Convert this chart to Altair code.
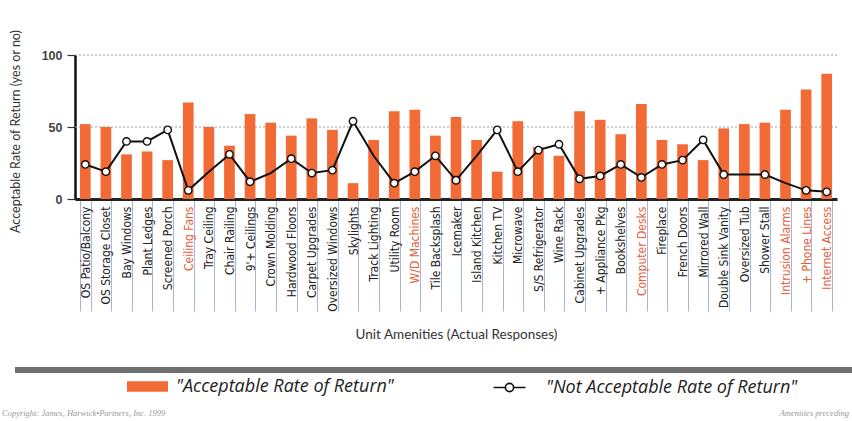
import altair as alt
import pandas as pd

# Unit amenities surveyed, in display order
amenities = [
    "OS Patio/Balcony", "OS Storage Closet", "Bay Windows", "Plant Ledges",
    "Screened Porch", "Ceiling Fans", "Tray Ceiling", "Chair Railing",
    "9'+ Ceilings", "Crown Molding", "Hardwood Floors", "Carpet Upgrades",
    "Oversized Windows", "Skylights", "Track Lighting", "Utility Room",
    "W/D Machines", "Tile Backsplash", "Icemaker", "Island Kitchen",
    "Kitchen TV", "Microwave", "S/S Refrigerator", "Wine Rack",
    "Cabinet Upgrades", "+ Appliance Pkg", "Bookshelves", "Computer Desks",
    "Fireplace", "French Doors", "Mirrored Wall", "Double Sink Vanity",
    "Oversized Tub", "Shower Stall", "Intrusion Alarms", "+ Phone Lines",
    "Internet Access",
]

# Share of respondents answering "acceptable rate of return" (bars)
acceptable = [52, 50, 31, 33, 27, 67, 50, 37, 59, 53, 44, 56, 48, 11, 41, 61,
              62, 44, 57, 41, 19, 54, 36, 30, 61, 55, 45, 66, 41, 38, 27, 49,
              52, 53, 62, 76, 87]

# Share answering "not acceptable rate of return" (line)
not_acceptable = [24, 19, 40, 40, 48, 6, 19, 31, 12, 18, 28, 18, 20, 54, 30,
                  11, 19, 30, 13, 30, 48, 19, 34, 38, 14, 16, 24, 15, 24, 27,
                  41, 17, 17, 17, 11, 6, 5]

# Line vertices drawn without a circle marker
no_marker = ["Tray Ceiling", "Crown Molding", "Track Lighting",
             "Island Kitchen", "Oversized Tub", "Intrusion Alarms"]

# Amenity names printed in red
highlighted = ["Ceiling Fans", "W/D Machines", "Computer Desks",
               "Intrusion Alarms", "+ Phone Lines", "Internet Access"]

y_ticks = [0, 25, 50, 75, 100]
grid_levels = [50, 100]

series_acc = '"Acceptable Rate of Return"'
series_not = '"Not Acceptable Rate of Return"'

ORANGE = "#f26a36"

df = pd.DataFrame({
    "amenity": amenities,
    "acceptable": acceptable,
    "not_acceptable": not_acceptable,
})
df["marked"] = ~df["amenity"].isin(no_marker)

hl_list = ",".join("'" + h.replace("'", "\\'") + "'" for h in highlighted)
label_color_expr = f"indexof([{hl_list}], datum.value) >= 0 ? '#e8603a' : '#222222'"

x_enc = alt.X(
    "amenity:N",
    sort=amenities,
    scale=alt.Scale(paddingInner=0.48, paddingOuter=0.24),
    axis=alt.Axis(
        title="Unit Amenities (Actual Responses)",
        titleFont="Lato",
        titleFontSize=13.5,
        titleFontWeight="normal",
        titleColor="#333333",
        titleY=135,
        titleBaseline="middle",
        labelAngle=270,
        labelFont="Liberation Sans Narrow, DejaVu Sans Condensed, sans-serif",
        labelFontSize=12,
        labelColor={"expr": label_color_expr},
        labelLimit=200,
        labelPadding=-105,
        tickBand="extent",
        tickSize=112,
        tickColor="#a9b5d2",
        tickWidth=1,
        domainColor="#222222",
        domainWidth=3,
        grid=False,
    ),
)

y_scale = alt.Scale(domain=[0, 100], nice=False)

bars = alt.Chart(df).mark_bar(color=ORANGE).encode(
    x=x_enc,
    y=alt.Y(
        "acceptable:Q",
        scale=y_scale,
        axis=alt.Axis(
            values=y_ticks,
            title="Acceptable Rate of Return (yes or no)",
            titleFont="Lato",
            titleFontSize=12.5,
            titleFontWeight="normal",
            titleColor="#333333",
            titleAngle=270,
            titleAlign="center",
            titleBaseline="middle",
            titleX=-60,
            titleY=76,
            labelFont="Liberation Sans",
            labelFontWeight="bold",
            labelFontSize=12.5,
            labelColor="#444444",
            labelPadding=5,
            tickSize=8,
            tickColor="#333333",
            tickWidth=1.2,
            domainColor="#111111",
            domainWidth=2.5,
            grid=False,
        ),
    ),
)

grid = alt.Chart(pd.DataFrame({"level": grid_levels})).mark_rule(
    color="#9a9a9a", strokeWidth=1, strokeDash=[2, 2]
).encode(y=alt.Y("level:Q", scale=y_scale))

line = alt.Chart(df).mark_line(color="#111111", strokeWidth=2).encode(
    x=alt.X("amenity:N", sort=amenities),
    y=alt.Y("not_acceptable:Q", scale=y_scale),
)

points = alt.Chart(df).transform_filter("datum.marked").mark_point(
    shape="circle", filled=True, fill="white", stroke="#111111",
    strokeWidth=1.4, size=55, opacity=1
).encode(
    x=alt.X("amenity:N", sort=amenities),
    y=alt.Y("not_acceptable:Q", scale=y_scale),
)

# Legend symbols: a flat orange block, and a line through an open circle
rect_path = "M-1,-0.26H1V0.26H-1Z"
line_circle_path = ("M-0.78,0H-0.2M0.2,0H0.78"
                    "M-0.2,0A0.2,0.2 0 1,1 0.2,0A0.2,0.2 0 1,1 -0.2,0Z")

legend_common = dict(
    title=None,
    orient="none",
    direction="horizontal",
    padding=0,
    symbolSize=1681,
    symbolOpacity=1,
    labelFont="Open Sans",
    labelFontStyle="italic",
    labelFontSize=18,
    labelColor="#222222",
    labelLimit=400,
    legendY=311,
)

# Legend-only layers: no rows survive the filter, the explicit domains keep the entries
legend_acc = alt.Chart(pd.DataFrame({"s1": [series_acc]})).transform_filter(
    "false"
).mark_point(filled=True, shape=rect_path, opacity=1).encode(
    fill=alt.Fill(
        "s1:N",
        scale=alt.Scale(domain=[series_acc], range=[ORANGE]),
        legend=alt.Legend(
            legendX=52, labelOffset=8, symbolType=rect_path,
            symbolStrokeWidth=0, **legend_common
        ),
    ),
)

legend_not = alt.Chart(pd.DataFrame({"s2": [series_not]})).transform_filter(
    "false"
).mark_point(filled=False, shape=line_circle_path, opacity=1).encode(
    stroke=alt.Stroke(
        "s2:N",
        scale=alt.Scale(domain=[series_not], range=["#111111"]),
        legend=alt.Legend(
            legendX=413, labelOffset=15, symbolType=line_circle_path,
            symbolFillColor="white", symbolStrokeWidth=1.6, **legend_common
        ),
    ),
)

# Heavy grey divider above the legend
divider = alt.Chart(pd.DataFrame({"k": [0]})).mark_rule(
    color="#6f6f6f", strokeWidth=6
).encode(x=alt.value(-60), x2=alt.value(780), y=alt.value(315))

footer_left = alt.Chart(
    pd.DataFrame({"t": ["Copyright: James, Harwick\u2022Partners, Inc. 1999"]})
).mark_text(
    align="left", baseline="middle", font="Liberation Serif",
    fontStyle="italic", fontSize=8.5, color="#9a9a9a"
).encode(x=alt.value(-73), y=alt.value(358), text="t:N")

footer_right = alt.Chart(
    pd.DataFrame({"t": ["Amenities preceding"]})
).mark_text(
    align="right", baseline="middle", font="Liberation Serif",
    fontStyle="italic", fontSize=8.5, color="#9a9a9a"
).encode(x=alt.value(774), y=alt.value(358), text="t:N")

chart = alt.layer(
    grid, bars, line, points, legend_acc, legend_not, divider,
    footer_left, footer_right
).properties(
    width=762,
    height=144,
    autosize=alt.AutoSizeParams(type="none"),
    padding={"left": 75, "top": 55, "right": 15, "bottom": 222},
    background="white",
).configure_view(stroke=None)

chart.save("out.html", embed_options={"renderer": "svg", "actions": False})
